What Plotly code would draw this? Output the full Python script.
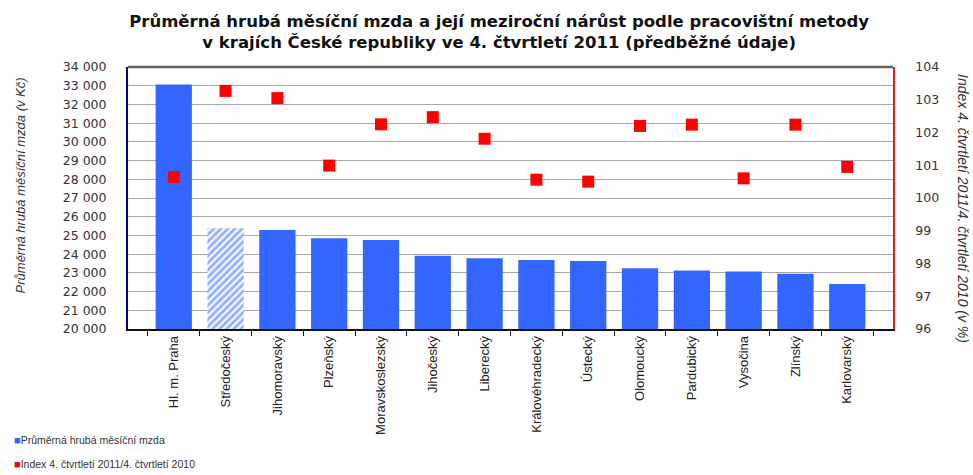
import plotly.graph_objects as go

# Regions of the Czech Republic, ordered by average gross monthly wage
regions = [
    "Hl. m. Praha", "Středočeský", "Jihomoravský", "Plzeňský",
    "Moravskoslezský", "Jihočeský", "Liberecký", "Královéhradecký",
    "Ústecký", "Olomoucký", "Pardubický", "Vysočina", "Zlínský", "Karlovarský",
]
# Average gross monthly wage, Q4 2011 (CZK)
wage = [33060, 25380, 25290, 24850, 24760, 23910, 23780, 23690,
        23640, 23250, 23120, 23070, 22950, 22400]
# Year-on-year index Q4 2011 / Q4 2010 (%)
wage_index = [100.64, 103.27, 103.05, 100.99, 102.25, 102.47, 101.81,
              100.56, 100.50, 102.20, 102.24, 100.60, 102.24, 100.95]
# Region whose bar is drawn hatched
hatched_region = "Středočeský"

wage_ticks = list(range(20000, 34001, 1000))
index_ticks = list(range(96, 105))

wage_name = "Průměrná hrubá měsíční mzda"
index_name = "Index 4. čtvrtletí 2011/4. čtvrtletí 2010"

BLUE = "#3366ff"
RED = "#ff0000"
NARROW = "Liberation Sans, Arial, sans-serif"
WIDE = "DejaVu Sans, Verdana, sans-serif"

patterns = ["/" if r == hatched_region else "" for r in regions]

fig = go.Figure()
fig.add_trace(go.Bar(
    x=regions, y=wage, name=wage_name,
    marker=dict(
        color=BLUE,
        line=dict(width=0),
        pattern=dict(shape=patterns, fgcolor=BLUE, bgcolor="white",
                     size=5, solidity=0.6),
    ),
    yaxis="y",
))
fig.add_trace(go.Scatter(
    x=regions, y=wage_index, name=index_name,
    mode="markers",
    marker=dict(symbol="square", color=RED, size=12, line=dict(width=0)),
    yaxis="y2",
))


def legend_entry(color, label, y):
    """Small coloured square followed by the series name, below the axis."""
    return dict(
        text=f"<span style='font-size:11px;color:{color}'>■</span>{label}",
        xref="paper", yref="paper", x=-0.152, y=y, xanchor="left", yanchor="middle",
        showarrow=False, font=dict(family=NARROW, size=10.5, color="#333"),
    )


fig.update_layout(
    width=973, height=475,
    margin=dict(l=128, r=80, t=67, b=146, autoexpand=False),
    paper_bgcolor="white", plot_bgcolor="white",
    font=dict(family=NARROW, size=11, color="#222"),
    separators=", ",
    bargap=0.3,
    showlegend=False,
    title=dict(
        text="Průměrná hrubá měsíční mzda a její meziroční nárůst podle pracovištní metody<br>"
             "v krajích České republiky ve 4. čtvrtletí 2011 (předběžné údaje)",
        xref="container", yref="container",
        x=0.513, xanchor="center", y=1 - 27 / 475, yanchor="middle",
        font=dict(family=WIDE, size=16.5, color="#111", weight="bold"),
    ),
    xaxis=dict(
        type="category", showgrid=False, automargin=False,
        showline=True, linecolor="#111", linewidth=1.5,
        ticks="outside", tickson="boundaries", ticklen=5, tickcolor="#111",
        tickangle=-90, tickfont=dict(family=NARROW, size=13, color="#222"),
    ),
    yaxis=dict(
        range=[20000, 34000], tickvals=wage_ticks, tickformat=",d",
        automargin=False, ticklabelstandoff=17,
        showgrid=True, gridcolor="#a8a8a8", gridwidth=1,
        showline=True, linecolor="#000080", linewidth=2,
        ticks="", tickfont=dict(family=WIDE, size=12.5, color="#333"), zeroline=False,
    ),
    yaxis2=dict(
        range=[96, 104], tickvals=index_ticks, overlaying="y", side="right",
        automargin=False, ticklabelstandoff=18,
        showgrid=False, showline=True, linecolor="#e02020", linewidth=1.5,
        ticks="", tickfont=dict(family=WIDE, size=12.5, color="#333"), zeroline=False,
    ),
    shapes=[dict(type="line", xref="paper", yref="paper", x0=0, x1=1, y0=1, y1=1,
                 line=dict(color="#666", width=2.5))],
    annotations=[
        dict(text=f"<i>{wage_name} (v Kč)</i>",
             xref="paper", yref="paper", x=(20 - 128) / 765, y=0.548,
             xanchor="center", yanchor="middle", textangle=-90,
             showarrow=False, font=dict(family=NARROW, size=13, color="#333")),
        dict(text=f"<i>{index_name} (v %)</i>",
             xref="paper", yref="paper", x=(963 - 128) / 765, y=0.458,
             xanchor="center", yanchor="middle", textangle=90,
             showarrow=False, font=dict(family=NARROW, size=14, color="#333")),
        legend_entry(BLUE, wage_name, -0.425),
        legend_entry(RED, index_name, -0.515),
    ],
)

fig.write_html("out.html")
